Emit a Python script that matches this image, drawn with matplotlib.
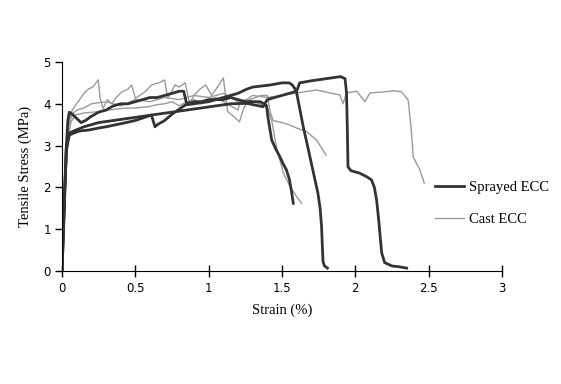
import matplotlib
matplotlib.use("Agg")
import matplotlib.pyplot as plt
from matplotlib.lines import Line2D

# sprayed ECC specimens (strain %, stress MPa)
s1_x = [0, 0.01, 0.02, 0.03, 0.04, 0.05, 0.07, 0.1, 0.13, 0.16, 0.2, 0.25, 0.3, 0.35, 0.4, 0.45,
        0.5, 0.55, 0.6, 0.65, 0.7, 0.75, 0.8, 0.83, 0.85, 0.9, 0.95, 1.0, 1.05, 1.1, 1.15, 1.2,
        1.25, 1.3, 1.35, 1.38, 1.395, 1.405, 1.43, 1.46, 1.486, 1.51, 1.53, 1.55, 1.565, 1.577]
s1_y = [0, 0.9, 2.0, 3.0, 3.6, 3.8, 3.75, 3.65, 3.55, 3.6, 3.7, 3.8, 3.85, 3.95, 4.0, 4.0,
        4.05, 4.1, 4.15, 4.15, 4.2, 4.25, 4.3, 4.3, 4.0, 4.05, 4.05, 4.1, 4.1, 4.1, 4.15, 4.1,
        4.05, 4.05, 4.05, 4.0, 3.95, 3.66, 3.13, 2.9, 2.73, 2.55, 2.42, 2.2, 1.9, 1.62]

s2_x = [0, 0.01, 0.02, 0.03, 0.05, 0.08, 0.12, 0.18, 0.25, 0.3, 0.41, 0.5, 0.61, 0.634, 0.65,
        0.7, 0.75, 0.84, 0.9, 1.0, 1.1, 1.2, 1.26, 1.3, 1.35, 1.42, 1.5, 1.55, 1.57, 1.59, 1.6,
        1.62, 1.645, 1.67, 1.71, 1.745, 1.76, 1.77, 1.775, 1.78, 1.79, 1.81]
s2_y = [0, 1.0, 2.0, 2.9, 3.25, 3.3, 3.35, 3.37, 3.42, 3.45, 3.53, 3.6, 3.73, 3.45, 3.5,
        3.6, 3.75, 3.97, 4.0, 4.05, 4.15, 4.25, 4.35, 4.4, 4.42, 4.45, 4.5, 4.5, 4.45, 4.35, 4.26,
        3.9, 3.45, 3.06, 2.42, 1.86, 1.5, 1.06, 0.6, 0.22, 0.12, 0.07]

s3_x = [0, 0.01, 0.02, 0.03, 0.05, 0.08, 0.15, 0.25, 0.35, 0.45, 0.55, 0.65, 0.75, 0.85, 0.95,
        1.05, 1.15, 1.26, 1.37, 1.4, 1.5, 1.6, 1.62, 1.7, 1.8, 1.9, 1.93, 1.94, 1.945, 1.95, 1.97,
        2.03, 2.08, 2.11, 2.13, 2.145, 2.16, 2.17, 2.18, 2.2, 2.25, 2.3, 2.35]
s3_y = [0, 1.1, 2.1, 3.0, 3.3, 3.35, 3.45, 3.55, 3.6, 3.65, 3.7, 3.75, 3.8, 3.85, 3.9,
        3.95, 4.0, 4.01, 3.93, 4.1, 4.2, 4.3, 4.5, 4.55, 4.6, 4.65, 4.6, 4.26, 3.5, 2.49, 2.4,
        2.34, 2.25, 2.18, 2.0, 1.7, 1.2, 0.8, 0.43, 0.2, 0.12, 0.1, 0.07]

# cast ECC specimens
c1_x = [0, 0.015, 0.03, 0.05, 0.07, 0.09, 0.12, 0.15, 0.18, 0.21, 0.247, 0.26, 0.28, 0.31,
        0.34, 0.37, 0.41, 0.45, 0.475, 0.5, 0.53, 0.57, 0.61, 0.66, 0.7, 0.72, 0.75, 0.77, 0.8,
        0.84, 0.87, 0.9, 0.94, 0.98, 1.02, 1.06, 1.1, 1.13, 1.17, 1.21, 1.24, 1.28, 1.32, 1.36,
        1.4, 1.42, 1.44, 1.5, 1.555, 1.6, 1.67, 1.736, 1.78, 1.8]
c1_y = [0, 1.5, 3.0, 3.6, 3.85, 3.95, 4.1, 4.25, 4.35, 4.4, 4.57, 4.13, 3.89, 4.1,
        4.0, 4.15, 4.29, 4.35, 4.45, 4.13, 4.2, 4.3, 4.45, 4.5, 4.57, 4.14, 4.3, 4.45, 4.4,
        4.5, 4.0, 4.2, 4.35, 4.45, 4.2, 4.4, 4.62, 3.81, 3.7, 3.57, 3.9, 4.1, 4.15, 4.2,
        4.2, 3.8, 3.6, 3.55, 3.49, 3.42, 3.33, 3.13, 2.89, 2.77]

c2_x = [0, 0.02, 0.04, 0.06, 0.089, 0.15, 0.25, 0.32, 0.41, 0.5, 0.59, 0.65, 0.7, 0.75, 0.8,
        0.85, 0.9, 0.95, 1.0, 1.05, 1.1, 1.15, 1.2, 1.21, 1.26, 1.3, 1.35, 1.4, 1.43, 1.46,
        1.486, 1.51, 1.555, 1.6, 1.634]
c2_y = [0, 1.8, 3.1, 3.55, 3.73, 3.78, 3.81, 3.85, 3.89, 3.9, 3.93, 3.98, 4.0, 4.05, 3.95,
        4.05, 4.1, 4.0, 4.1, 4.15, 4.05, 3.95, 3.85, 4.0, 4.1, 4.05, 4.0, 3.9, 3.6, 3.0,
        2.65, 2.34, 2.02, 1.78, 1.62]

c3_x = [0, 0.02, 0.04, 0.07, 0.1, 0.15, 0.2, 0.3, 0.4, 0.5, 0.6, 0.7, 0.8, 0.9, 1.0, 1.1, 1.2,
        1.26, 1.3, 1.4, 1.5, 1.6, 1.736, 1.8, 1.895, 1.916, 1.94, 2.01, 2.065, 2.1, 2.18, 2.26,
        2.315, 2.36, 2.38, 2.395, 2.42, 2.44, 2.47]
c3_y = [0, 2.0, 3.4, 3.75, 3.85, 3.9, 4.0, 4.05, 3.95, 4.1, 4.05, 4.15, 4.1, 4.2, 4.15, 4.25, 4.05,
        4.1, 4.2, 4.15, 4.2, 4.26, 4.33, 4.28, 4.21, 4.0, 4.26, 4.3, 4.05, 4.26, 4.28, 4.31,
        4.29, 4.09, 3.45, 2.73, 2.55, 2.42, 2.1]

x_ticks = [0, 0.5, 1, 1.5, 2, 2.5, 3]
x_labels = ["0", "0.5", "1", "1.5", "2", "2.5", "3"]
y_ticks = [0, 1, 2, 3, 4, 5]

dark = "#333333"
grey = "#9a9a9a"

fig = plt.figure(figsize=(5.61, 3.84), dpi=100)
ax = fig.add_axes([0.1105, 0.2943, 0.7843, 0.5443])

for cx, cy in [(c1_x, c1_y), (c2_x, c2_y), (c3_x, c3_y)]:
    ax.plot(cx, cy, color=grey, lw=1.0)
for sx, sy in [(s1_x, s1_y), (s2_x, s2_y), (s3_x, s3_y)]:
    ax.plot(sx, sy, color=dark, lw=2.0)

ax.set_xlim(0, 3)
ax.set_ylim(0, 5)
ax.set_xticks(x_ticks)
ax.set_xticklabels(x_labels)
ax.set_yticks(y_ticks)
ax.spines["top"].set_visible(False)
ax.spines["right"].set_visible(False)
ax.tick_params(axis="x", direction="inout", length=8, width=1, labelsize=8.5, pad=4)
ax.tick_params(axis="y", direction="out", length=5, width=1, labelsize=8.5, pad=3)

serif = ["Liberation Serif", "DejaVu Serif"]
ax.set_xlabel("Strain (%)", family=serif, fontsize=10.5, labelpad=6)
ax.set_ylabel("Tensile Stress (MPa)", family=serif, fontsize=10.5, labelpad=8)

handles = [Line2D([], [], color=dark, lw=2.0), Line2D([], [], color=grey, lw=1.0)]
ax.legend(handles, ["Sprayed ECC", "Cast ECC"], loc="center left",
          bbox_to_anchor=(0.752, 0.47), bbox_transform=fig.transFigure,
          frameon=False, prop={"family": serif, "size": 10.5},
          handlelength=2.0, handletextpad=0.35, labelspacing=1.3)

fig.savefig("out.png", dpi=100)
